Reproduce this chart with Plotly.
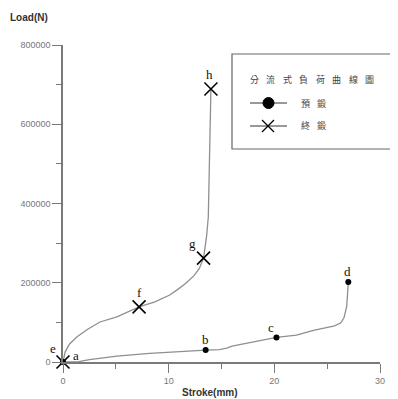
import plotly.graph_objects as go

# 預鍛 (pre-forging) curve
pre_x = [0, 1.5, 2.5, 5.1, 8.2, 11.0, 13.5, 14.8, 15.5, 16.0, 18.0, 20.2, 22.1, 23.7, 25.7, 26.3, 26.6, 26.85, 27.0]
pre_y = [0, 1000, 6000, 15000, 22000, 27000, 30000, 31000, 35000, 40000, 50000, 62000, 68000, 80000, 91000, 99000, 112000, 140000, 202000]
pre_mark_x = [0, 13.5, 20.2, 27.0]
pre_mark_y = [0, 30000, 62000, 202000]
pre_labels = ["a", "b", "c", "d"]

# 終鍛 (final forging) curve
fin_x = [0, 0.2, 0.6, 1.3, 2.3, 3.5, 5.1, 7.2, 8.7, 10.1, 10.8, 11.6, 12.4, 12.9, 13.3, 13.6, 13.75, 13.9, 13.97, 14.0]
fin_y = [0, 25000, 45000, 63000, 82000, 101000, 114000, 139000, 152000, 169000, 182000, 198000, 218000, 236000, 262000, 320000, 366000, 535000, 640000, 689000]
fin_mark_x = [0, 7.2, 13.3, 14.0]
fin_mark_y = [0, 139000, 262000, 689000]
fin_labels = ["e", "f", "g", "h"]

x_ticks = [0, 10, 20, 30]
y_ticks = [0, 200000, 400000, 600000, 800000]

legend_title = "分流式負荷曲線圖"
legend_names = ["預鍛", "終鍛"]

line_col = "#8f8f8f"
axis_col = "#7a7a7a"

fig = go.Figure()
fig.add_trace(go.Scatter(x=pre_x, y=pre_y, mode="lines", line=dict(color=line_col, width=1.3), showlegend=False, hoverinfo="skip"))
fig.add_trace(go.Scatter(x=fin_x, y=fin_y, mode="lines", line=dict(color=line_col, width=1.3), showlegend=False, hoverinfo="skip"))
fig.add_trace(go.Scatter(x=pre_mark_x, y=pre_mark_y, mode="markers",
                         marker=dict(symbol="circle", size=6, color="black"), showlegend=False, cliponaxis=False))
fig.add_trace(go.Scatter(x=fin_mark_x, y=fin_mark_y, mode="markers",
                         marker=dict(symbol="x-thin-open", size=13, color="black", line=dict(width=1.6, color="#222")),
                         showlegend=False, cliponaxis=False))

serif = "Liberation Serif, DejaVu Serif, serif"
lab_offsets = {"a": (13, 7), "b": (0, 11), "c": (-5, 10), "d": (-1, 10),
               "e": (-10, 14), "f": (0, 14), "g": (-11, 15), "h": (-1, 14)}
for xs, ys, ls in [(pre_mark_x, pre_mark_y, pre_labels), (fin_mark_x, fin_mark_y, fin_labels)]:
    for xv, yv, lv in zip(xs, ys, ls):
        dx, dy = lab_offsets[lv]
        fig.add_annotation(x=xv, y=yv, text=lv, showarrow=False, xshift=dx, yshift=dy,
                           font=dict(family=serif, size=13, color="#111"))

# page pixel -> paper coords (page has 8px body margin; plot area spans page px 63..380, 45..362)
def px(xp):
    return (xp - 63) / 317

def py(yp):
    return (362 - yp) / 317

# Axis titles
fig.add_annotation(xref="paper", yref="paper", x=px(8), y=py(17), xanchor="left", yanchor="middle",
                   text="<b>Load(N)</b>", showarrow=False, font=dict(family="Liberation Sans, Arial", size=10, color="#333"))
fig.add_annotation(xref="paper", yref="paper", x=px(210), y=py(392), xanchor="center", yanchor="middle",
                   text="<b>Stroke(mm)</b>", showarrow=False, font=dict(family="Liberation Sans, Arial", size=10, color="#333"))

# Legend box drawn by hand
shapes = []
shapes.append(dict(type="rect", xref="paper", yref="paper", x0=px(232), x1=px(410), y0=py(149), y1=py(54),
                   line=dict(color="#666", width=1.2), fillcolor="white", layer="below"))
for yy in (103, 126):
    shapes.append(dict(type="line", xref="paper", yref="paper", x0=px(250), x1=px(287), y0=py(yy), y1=py(yy),
                       line=dict(color="#333", width=1)))
shapes.append(dict(type="circle", xref="paper", yref="paper", x0=px(263), x1=px(274), y0=py(108.5), y1=py(97.5),
                   fillcolor="black", line=dict(color="black", width=1)))
shapes.append(dict(type="line", xref="paper", yref="paper", x0=px(262), x1=px(274), y0=py(120), y1=py(132),
                   line=dict(color="black", width=1.3)))
shapes.append(dict(type="line", xref="paper", yref="paper", x0=px(262), x1=px(274), y0=py(132), y1=py(120),
                   line=dict(color="black", width=1.3)))

cjk = "Noto Sans CJK TC, Noto Sans CJK SC, sans-serif"
for i, ch in enumerate(legend_title):
    fig.add_annotation(xref="paper", yref="paper", x=px(254 + i * 16.5), y=py(79), xanchor="center", yanchor="middle",
                       text=ch, showarrow=False, font=dict(family=cjk, size=9, color="#444"))
for row, name in enumerate(legend_names):
    for i, ch in enumerate(name):
        fig.add_annotation(xref="paper", yref="paper", x=px(305 + i * 16), y=py(103 + 23 * row), xanchor="center",
                           yanchor="middle", text=ch, showarrow=False, font=dict(family=cjk, size=9, color="#444"))

tick_font = dict(family="Liberation Sans, Arial", size=9, color="#777")
fig.update_layout(
    width=390, height=391,
    margin=dict(l=55, r=18, t=37, b=37),
    paper_bgcolor="white", plot_bgcolor="white",
    shapes=shapes,
    showlegend=False,
    xaxis=dict(range=[0, 30], tickvals=x_ticks, ticktext=[str(v) for v in x_ticks], showgrid=False, zeroline=False,
               showline=True, linecolor=axis_col, linewidth=1.5, ticks="outside", ticklen=9, tickcolor=axis_col,
               tickwidth=1.3, tickfont=tick_font,
               minor=dict(tickvals=[5, 15, 25], ticks="outside", ticklen=5, tickcolor=axis_col, showgrid=False)),
    yaxis=dict(range=[0, 800000], tickvals=y_ticks, ticktext=[str(v) for v in y_ticks], showgrid=False, zeroline=False,
               showline=True, linecolor=axis_col, linewidth=1.5, ticks="outside", ticklen=9, tickcolor=axis_col,
               tickwidth=1.3, tickfont=tick_font,
               minor=dict(tickvals=[100000, 300000, 500000, 700000], ticks="outside", ticklen=5, tickcolor=axis_col, showgrid=False)),
)

fig.write_html("out.html")
